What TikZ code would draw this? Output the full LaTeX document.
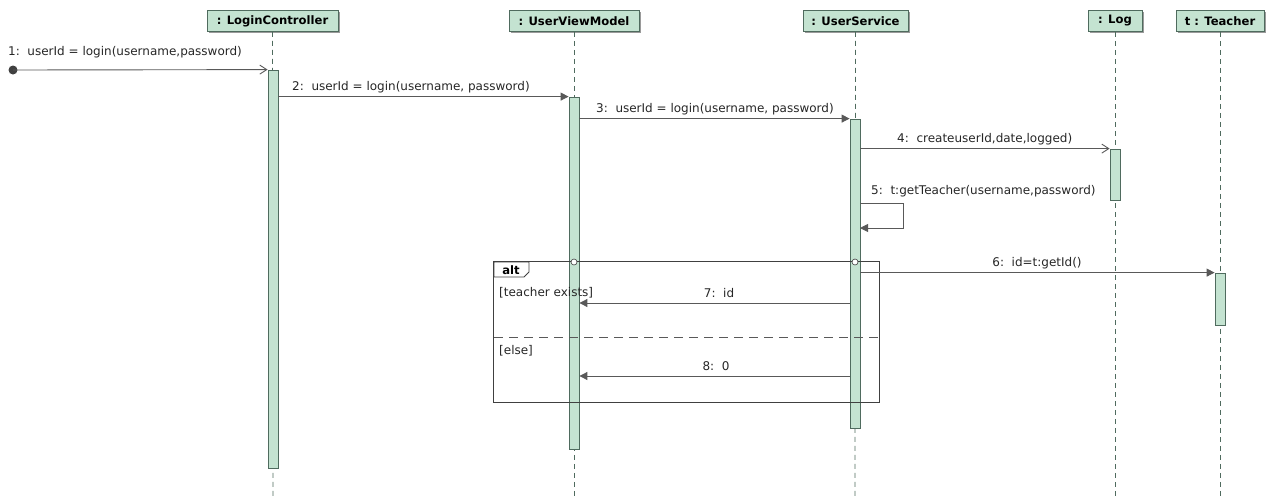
\documentclass[tikz,border=0pt]{standalone}
\usepackage{fontspec}
\setmainfont{DejaVu Sans}
\usetikzlibrary{arrows.meta}
\definecolor{actfill}{HTML}{C4E3D1}
\definecolor{actdraw}{HTML}{4F6B5E}
\definecolor{msgline}{HTML}{595959}
\definecolor{shadowc}{HTML}{9A9A9A}
\tikzset{
  header/.style={draw=actdraw, fill=actfill, line width=0.9pt, inner sep=0pt,
    minimum height=21pt, font=\fontsize{11.6}{13}\selectfont\bfseries, text=black},
  lifeline/.style={draw=actdraw, dash pattern=on 5pt off 4pt, line width=0.7pt},
  activation/.style={draw=actdraw, fill=actfill, line width=0.8pt, minimum width=10pt, inner sep=0pt},
  msg/.style={draw=msgline, line width=0.9pt, -{Triangle[length=8pt,width=8pt]}},
  amsg/.style={draw=msgline, line width=0.9pt, -{Straight Barb[length=7pt,width=9pt]}},
  lbl/.style={font=\fontsize{12}{14}\selectfont, text=black!85, inner sep=0pt},
  framebox/.style={draw=black!75, line width=0.8pt},
  gate/.style={circle, draw=black!75, fill=white, line width=0.6pt, minimum size=6pt, inner sep=0pt}
}
\begin{document}
\begin{tikzpicture}[x=1pt, y=-1pt]
\useasboundingbox (0,0) rectangle (1268,496);

% participant boxes with a light shadow
\foreach \l/\r in {207/338, 509/639, 803/908, 1088/1142, 1176/1264}{
  \fill[shadowc] (\l+2,12) rectangle (\r+2,33);
}
\node[header, minimum width=131pt] (hLC)  at (272.5,21) {: LoginController};
\node[header, minimum width=130pt] (hUVM) at (574,21) {: UserViewModel};
\node[header, minimum width=105pt] (hUS)  at (855.5,21) {: UserService};
\node[header, minimum width=54pt]  (hLog) at (1115,21) {: Log};
\node[header, minimum width=88pt]  (hT)   at (1220,21) {t : Teacher};

% lifelines
\coordinate (eLC)  at (273,496);
\coordinate (eUVM) at (574,496);
\coordinate (eUS)  at (855,496);
\coordinate (eLog) at (1115,496);
\coordinate (eT)   at (1220,496);
\draw[lifeline] (hLC.south)  -- (eLC);
\draw[lifeline] (hUVM.south) -- (eUVM);
\draw[lifeline] (hUS.south)  -- (eUS);
\draw[lifeline] (hLog.south) -- (eLog);
\draw[lifeline] (hT.south)   -- (eT);

% activation bars
\node[activation, minimum height=398pt] (aLC)  at (273,269) {};
\node[activation, minimum height=352pt] (aUVM) at (574,273) {};
\node[activation, minimum height=309pt] (aUS)  at (855,273.5) {};
\node[activation, minimum height=51pt]  (aLog) at (1115,174.5) {};
\node[activation, minimum height=52pt]  (aT)   at (1220,299) {};

% alt combined fragment
\node[draw=none, inner sep=0pt, minimum width=385pt, minimum height=140pt] (alt) at (686.5,332) {};
\draw[framebox] (alt.north west) rectangle (alt.south east);
\draw[framebox, fill=white] (494,262) -- (529,262) -- (529,272) -- (524,277) -- (494,277) -- cycle;
\node[font=\fontsize{11.6}{13}\selectfont\bfseries, inner sep=0pt] (altlbl) at (511,270.5) {alt};
\coordinate (sepL) at (494,337);
\coordinate (sepR) at (879,337);
\draw[draw=msgline, line width=0.9pt, dash pattern=on 9pt off 6pt] (sepL) -- (sepR);
\node[lbl, anchor=west] (g1) at (499,293) {[teacher exists]};
\node[lbl, anchor=west] (g2) at (499,351) {[else]};

% message 1 (found message)
\fill[black!75] (13,70) circle (4.5pt);
\coordinate (start1) at (13,70);
\draw[amsg] (start1) -- (aLC.north west);
\node[lbl, anchor=west] (l1) at (8,52) {1:\ \ userId = login(username,password)};

% message 2
\draw[msg] (aLC.east |- aUVM.north) -- (aUVM.north west);
\node[lbl, anchor=west] (l2) at (292,87) {2:\ \ userId = login(username, password)};

% message 3
\draw[msg] (aUVM.east |- aUS.north) -- (aUS.north west);
\node[lbl, anchor=west] (l3) at (596,109) {3:\ \ userId = login(username, password)};

% message 4
\draw[amsg] (aUS.east |- aLog.north) -- (aLog.north west);
\node[lbl, anchor=west] (l4) at (897,139) {4:\ \ createuserId,date,logged)};

% message 5 (self call)
\coordinate (s5a) at (860,203);
\coordinate (s5b) at (903,203);
\coordinate (s5c) at (903,228);
\coordinate (s5d) at (860,228);
\draw[msg] (aUS.east |- s5a) -- (s5b) -- (s5c) -- (s5d);
\node[lbl, anchor=west] (l5) at (871,191) {5:\ \ t:getTeacher(username,password)};

% message 6
\draw[msg] (aUS.east |- aT.north) -- (aT.north west);
\node[lbl] (l6) at (1037,263) {6:\ \ id=t:getId()};

% gates where the fragment edge meets the lifelines
\node[gate] (gUVM) at (574,262) {};
\node[gate] (gUS)  at (855,262) {};

% message 7
\coordinate (m7) at (850,303);
\draw[msg] (aUS.west |- m7) -- (aUVM.east |- m7);
\node[lbl] (l7) at (719,293) {7:\ \ id};

% message 8
\coordinate (m8) at (850,376);
\draw[msg] (aUS.west |- m8) -- (aUVM.east |- m8);
\node[lbl] (l8) at (716,366) {8:\ \ 0};
\end{tikzpicture}
\end{document}
